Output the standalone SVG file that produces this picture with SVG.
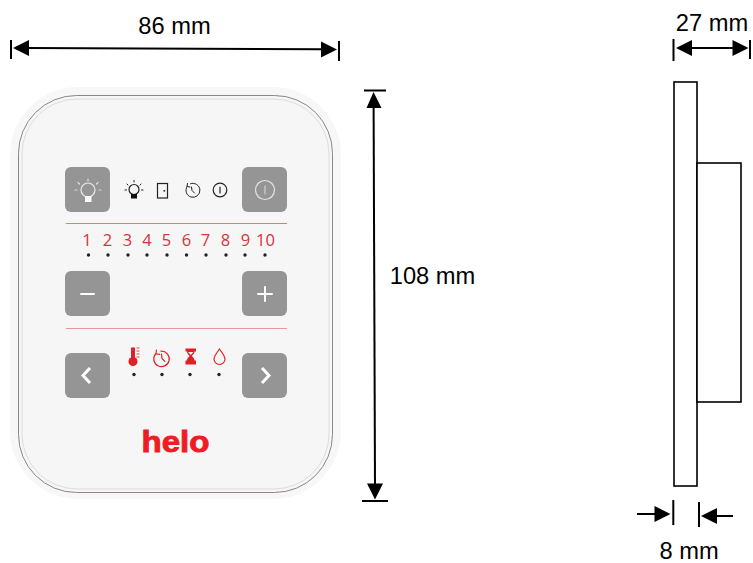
<svg xmlns="http://www.w3.org/2000/svg" width="753" height="563" viewBox="0 0 753 563">
<style>
text{font-family:"Liberation Sans",Arial,sans-serif;fill:#000}
.dim{font-size:23.700px}
.num{font-family:"Open Sans","Liberation Sans",sans-serif;font-size:16.500px;fill:#d6343a;text-anchor:middle}
.btn{fill:#959595}
.w{fill:none;stroke:#fff;stroke-width:1.600;stroke-linecap:round}
.k{fill:none;stroke:#222;stroke-width:1.200;stroke-linecap:round}
.r{fill:none;stroke:#e01f26;stroke-width:1.200;stroke-linecap:round}
.d{fill:#222}
.sep{stroke:#e8767a;stroke-width:1}
.ln{stroke:#000;stroke-width:2;fill:none}
.tk{stroke:#000;stroke-width:2;fill:none}
.hd{fill:#000}
</style>
<g id="panel">
<rect x="10" y="87" width="331" height="412" rx="68" fill="#f4f4f4" opacity=".7"/>
<rect x="18.500" y="95.500" width="314" height="397" rx="58" fill="#f6f6f6" stroke="#8f8583" stroke-width="1"/>
<rect x="22" y="99" width="307" height="390" rx="55" fill="none" stroke="#dcdcdc" stroke-width="1"/>
<line class="sep" x1="66" y1="223.500" x2="287" y2="223.500"/>
<line class="sep" x1="66" y1="328.500" x2="287" y2="328.500" stroke-opacity=".75"/>
</g>
<g id="btn-light">
<rect class="btn" x="65" y="167" width="45" height="45" rx="6"/>
<circle class="w" cx="88" cy="190" r="7" style="stroke:#eee;stroke-width:1.200"/>
<rect x="85" y="196" width="6.500" height="6" fill="#fff"/>
<path class="w" d="M88 181v-2M79.500 184l-1.500-1.500M96.500 184l1.500-1.500M77 190h-2M99 190h2" style="stroke:#ddd;stroke-width:1.200"/>
</g>
<g id="btn-power">
<rect class="btn" x="242" y="167" width="45" height="45" rx="6"/>
<circle class="w" cx="265" cy="190" r="9.500" style="stroke:#e4e4e4;stroke-width:1.200"/>
<path class="w" d="M265 186v8" style="stroke:#ddd;stroke-width:1"/>
</g>
<g id="btn-minus">
<rect class="btn" x="65" y="271" width="45" height="45" rx="6"/>
<path class="w" d="M81 294h13" style="stroke-width:2"/>
</g>
<g id="btn-plus">
<rect class="btn" x="242" y="271" width="45" height="45" rx="6"/>
<path class="w" d="M258 294h14M265 287v14" style="stroke-width:2"/>
</g>
<g id="btn-left">
<rect class="btn" x="65" y="353" width="45" height="45" rx="6"/>
<path class="w" d="M90 368l-7 7.500l7 7.500" style="stroke-width:3;stroke-linecap:butt"/>
</g>
<g id="btn-right">
<rect class="btn" x="242" y="353" width="45" height="45" rx="6"/>
<path class="w" d="M262 368l7 7.500l-7 7.500" style="stroke-width:3;stroke-linecap:butt"/>
</g>
<g id="status-icons">
<circle class="k" cx="134" cy="189.500" r="5"/>
<rect x="131" y="194" width="6" height="4.500" fill="#111"/>
<path class="k" d="M134 182v-1.500M128 185l-1-1M140 185l1-1M126.500 190h-1.500M141.500 190h1.500" style="stroke-width:1"/>
<rect x="157.500" y="183.500" width="10" height="14.500" fill="none" stroke="#222" stroke-width="1.200"/>
<rect x="163.500" y="190" width="1.600" height="1.600" fill="#222"/>
<path class="k" d="M187 186.500a7 7 0 1 0 3.500-2.800M187.500 183.500l-.5 3l3 .5M191.500 187l.5 3.500l2.500 2.500" style="stroke-width:1"/>
<circle class="k" cx="220" cy="190" r="6.800"/>
<path class="k" d="M220 187v6"/>
</g>
<g id="numbers">
<text class="num" x="87" y="246">1</text>
<text class="num" x="107.500" y="246">2</text>
<text class="num" x="127.500" y="246">3</text>
<text class="num" x="147" y="246">4</text>
<text class="num" x="166.500" y="246">5</text>
<text class="num" x="186.500" y="246">6</text>
<text class="num" x="205.500" y="246">7</text>
<text class="num" x="225.500" y="246">8</text>
<text class="num" x="245.500" y="246">9</text>
<text class="num" x="265.500" y="246">10</text>
<g class="d">
<circle cx="88.500" cy="255" r="1.700"/><circle cx="108" cy="255" r="1.700"/><circle cx="128" cy="255" r="1.700"/><circle cx="147" cy="255" r="1.700"/><circle cx="167" cy="255" r="1.700"/><circle cx="186.500" cy="255" r="1.700"/><circle cx="206" cy="255" r="1.700"/><circle cx="226" cy="255" r="1.700"/><circle cx="245" cy="255" r="1.700"/><circle cx="265" cy="255" r="1.700"/>
</g>
</g>
<g id="mode-icons">
<circle cx="133" cy="361.500" r="4.500" fill="#e01f26"/>
<rect x="131" y="347.500" width="4" height="12" fill="#e01f26"/>
<path d="M136.500 348h3M136.500 351h3M136.500 354h3M136.500 357h3" stroke="#e01f26" stroke-width=".8"/>
<path class="r" d="M156 353.500a7.700 7.700 0 1 0 5-2.300M156.500 350l-.6 3.800l3.800.6M161.500 354l.5 4.500l2.800 2.800"/>
<path d="M185.500 348.500h10.500v3h-1.500c0 3-2.500 3.500-2.500 4.500s2.500 1.500 2.500 4.500h1.500v4h-10.500v-4h1.500c0-3 2.500-3.500 2.500-4.500s-2.500-1.500-2.500-4.500h-1.500z" fill="#e01f26"/>
<path d="M188 352h5.500l-2.700 3z" fill="#f6f6f6"/>
<path class="r" d="M219.500 349c-3 4.500-5.500 7-5.500 10a5.500 5.500 0 0 0 11 0c0-3-2.500-5.500-5.500-10z"/>
<g class="d"><circle cx="134" cy="374.500" r="1.700"/><circle cx="162" cy="374.500" r="1.700"/><circle cx="190" cy="374.500" r="1.700"/><circle cx="219" cy="374.500" r="1.700"/></g>
</g>
<g id="logo">
<text x="141.500" y="452" textLength="68" lengthAdjust="spacingAndGlyphs" style="font-family:'Liberation Sans',Arial,sans-serif;font-weight:700;font-size:30px;fill:#ee1c25;stroke:#ee1c25;stroke-width:.9">helo</text>
</g>
<g id="side-view">
<rect x="674" y="82" width="23" height="404" fill="#fff" stroke="#000" stroke-width="1.600"/>
<rect x="697" y="163" width="44" height="239" fill="#fff" stroke="#000" stroke-width="1.600"/>
</g>
<g id="connectors">
<path class="tk" d="M11 40v19M339 41v20"/>
<path class="ln" d="M28 48l294 1.300"/>
<path class="hd" d="M13 48l16-8v16zM337 49.500l-16-8v16z"/>
<path class="tk" d="M364 90.500h22M362 501h26"/>
<path class="ln" d="M373.600 105l1.400 380"/>
<path class="hd" d="M373.500 92l8 16h-15zM375 499.500l-8-16h16z"/>
<path class="tk" d="M673.500 39v22M750 40v19"/>
<path class="ln" d="M690 48h45"/>
<path class="hd" d="M676 48l16-8v16zM748.500 48l-16-8v16z"/>
<path class="tk" d="M673.300 500v25M699 502v25"/>
<path class="ln" d="M637 514h20M733 516h-20"/>
<path class="hd" d="M670.500 514l-16-8v16zM701 516l16-8v16z"/>
</g>
<g id="labels">
<text class="dim" x="174.500" y="34" text-anchor="middle">86 mm</text>
<text class="dim" x="712" y="31" text-anchor="middle">27 mm</text>
<text class="dim" x="432.500" y="284" text-anchor="middle">108 mm</text>
<text class="dim" x="689" y="559" text-anchor="middle">8 mm</text>
</g>
</svg>
